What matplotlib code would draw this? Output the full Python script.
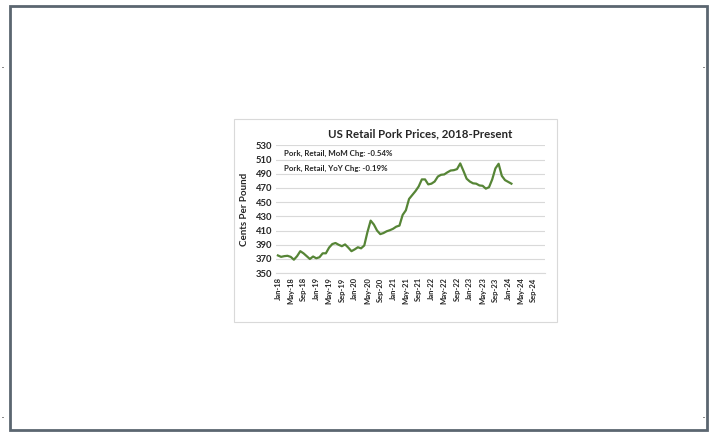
import matplotlib
matplotlib.use("Agg")
import matplotlib.pyplot as plt
import numpy as np
import pandas as pd
from matplotlib.patches import Rectangle

# Prezzo al dettaglio della carne di maiale (cents per pound), Jan-18 .. Feb-24
prezzi = [375, 373, 374, 374.5, 373, 369, 374, 381, 378, 374, 370, 373.5,
          371, 372.5, 378, 378, 386, 391, 392.5, 390, 388, 390.5, 386, 381,
          383.5, 386.5, 385, 389, 408, 424, 418.5, 410, 405, 406.5, 409, 410.5,
          412.5, 415.5, 417, 432, 438.5, 454.5, 460, 465.5, 472, 482, 482, 475,
          476, 479, 486, 488.5, 489, 492, 494.5, 495, 496.5, 504.5, 494, 483,
          479, 476.5, 476, 473.5, 473, 469, 471, 482, 497.5, 504, 487, 481,
          478.5, 476]
mesi = pd.date_range("2018-01-01", "2024-12-01", freq="MS").strftime("%b-%y").tolist()
y_ticks = list(range(350, 531, 20))
note = ["Pork, Retail, MoM Chg: -0.54%", "Pork, Retail, YoY Chg: -0.19%"]

font = "Lato"
verde = "#568536"
griglia = "#d9d9d9"
testo = "#262626"

fig = plt.figure(figsize=(7.1, 4.32), dpi=100)

# cornice della pagina
fig.patches.append(Rectangle((10 / 710, 2 / 432), 697 / 710, 424 / 432, transform=fig.transFigure,
                             fill=False, edgecolor="#5b6670", linewidth=2.0, zorder=-2))
for (px, py) in [(2, 68), (2, 418), (703, 68), (703, 418)]:
    fig.patches.append(Rectangle((px / 710, 1 - py / 432), 1.5 / 710, 1.5 / 432, transform=fig.transFigure,
                                 facecolor="#8a8a8a", edgecolor="none", zorder=-2))

# riquadro del grafico
fig.patches.append(Rectangle((234 / 710, 1 - 322 / 432), 323 / 710, 203 / 432, transform=fig.transFigure,
                             facecolor="white", edgecolor=griglia, linewidth=0.8, zorder=-1))

ax = fig.add_axes([276.3 / 710, 1 - 273.2 / 432, 268.7 / 710, 127.9 / 432])
ax.set_zorder(2)
x = np.arange(len(prezzi))
ax.plot(x, prezzi, color=verde, linewidth=1.6, solid_joinstyle="round", zorder=3)

ax.set_xlim(-0.5, len(mesi) - 0.5)
ax.set_ylim(350, 530)
ax.set_yticks(y_ticks)
ax.set_yticklabels([str(v) for v in y_ticks], fontsize=6.8, family=font, fontweight="bold", color=testo)
pos = list(range(0, 81, 4))
ax.set_xticks(pos)
ax.set_xticklabels([mesi[i] for i in pos], rotation=90, fontsize=5.5, family=font,
                   fontweight="bold", color=testo)
ax.tick_params(axis="both", length=0, pad=3)
ax.grid(axis="y", color=griglia, linewidth=0.8)
ax.set_axisbelow(True)
for s in ["top", "right", "left"]:
    ax.spines[s].set_visible(False)
ax.spines["bottom"].set_color(griglia)
ax.spines["bottom"].set_linewidth(0.8)
ax.patch.set_alpha(0)

ax.set_ylabel("Cents Per Pound", fontsize=7, family=font, fontweight="bold", labelpad=5, color=testo)
fig.text(420 / 710, 1 - 134 / 432, "US Retail Pork Prices, 2018-Present", ha="center", va="center",
         fontsize=8.3, family=font, fontweight="bold", color=testo)
fig.text(284 / 710, 1 - 153 / 432, note[0], ha="left", va="center", fontsize=5.7, family=font,
         fontweight="bold", color=testo)
fig.text(284 / 710, 1 - 168 / 432, note[1], ha="left", va="center", fontsize=5.7, family=font,
         fontweight="bold", color=testo)

fig.savefig("out.png", dpi=100)
